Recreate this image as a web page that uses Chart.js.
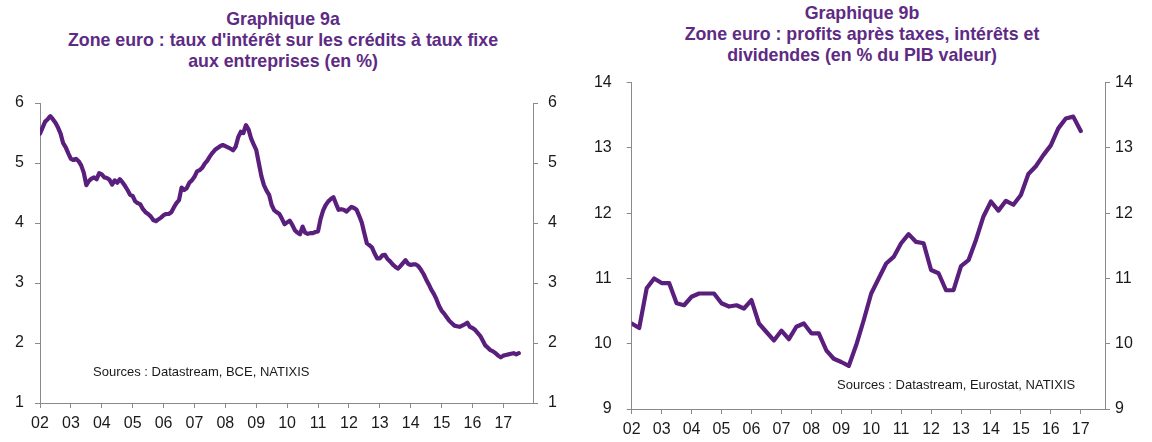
<!DOCTYPE html>
<html>
<head>
<meta charset="utf-8">
<script src="https://cdn.jsdelivr.net/npm/chart.js@4/dist/chart.umd.min.js"></script>
<style>
  html, body { margin:0; padding:0; background:#fff; }
  body { width:1152px; height:442px; position:relative; overflow:hidden; font-family:"Liberation Sans", Arial, sans-serif; }
  canvas { position:absolute; top:0; }
  .title { position:absolute; width:560px; text-align:center; font-weight:bold; font-size:17.8px; line-height:21px; color:#5e2a84; }
  .src { position:absolute; font-size:13px; line-height:15px; color:#1a1a1a; white-space:nowrap; }
</style>
</head>
<body>
<div class="title" style="left:3px; top:9px;">Graphique 9a<br>Zone euro : taux d'intérêt sur les crédits à taux fixe<br>aux entreprises (en %)</div>
<div class="title" style="left:582px; top:3px;">Graphique 9b<br>Zone euro : profits après taxes, intérêts et<br>dividendes (en % du PIB valeur)</div>
<canvas id="c1" width="576" height="442" style="left:0;"></canvas>
<canvas id="c2" width="576" height="442" style="left:576px;"></canvas>
<div class="src" style="left:93px; top:364px;">Sources : Datastream, BCE, NATIXIS</div>
<div class="src" style="left:837px; top:377px;">Sources : Datastream, Eurostat, NATIXIS</div>
<script>
// Chart 9a: monthly, starting January 2002
const creditStartYear = 2002;
const creditRates = [
  5.49,5.59,5.69,5.73,5.78,5.73,5.67,5.59,5.49,5.33,5.26,5.16,
  5.07,5.05,5.07,5.03,4.96,4.84,4.63,4.70,4.74,4.76,4.73,4.83,
  4.81,4.76,4.75,4.72,4.64,4.71,4.67,4.73,4.68,4.62,4.55,4.47,
  4.45,4.36,4.33,4.31,4.23,4.18,4.15,4.11,4.05,4.03,4.06,4.09,
  4.13,4.15,4.15,4.18,4.26,4.33,4.38,4.59,4.55,4.58,4.67,4.71,
  4.77,4.86,4.88,4.92,4.99,5.04,5.11,5.17,5.22,5.25,5.28,5.30,
  5.28,5.26,5.24,5.21,5.27,5.43,5.52,5.50,5.63,5.56,5.41,5.31,
  5.22,5.00,4.78,4.63,4.54,4.47,4.30,4.21,4.18,4.15,4.07,3.98,
  4.01,4.04,3.97,3.88,3.84,3.81,3.94,3.84,3.82,3.83,3.83,3.85,
  3.86,4.07,4.21,4.30,4.36,4.40,4.43,4.32,4.22,4.23,4.22,4.19,
  4.23,4.27,4.25,4.22,4.12,4.01,3.83,3.66,3.63,3.59,3.49,3.41,
  3.41,3.46,3.47,3.40,3.36,3.31,3.27,3.24,3.28,3.33,3.38,3.32,
  3.30,3.31,3.31,3.28,3.22,3.15,3.06,2.98,2.89,2.82,2.73,2.62,
  2.54,2.49,2.43,2.37,2.33,2.29,2.28,2.27,2.29,2.31,2.34,2.27,
  2.25,2.22,2.17,2.12,2.04,1.96,1.92,1.88,1.86,1.83,1.79,1.76,
  1.79,1.80,1.81,1.82,1.83,1.81,1.83
];
// Chart 9b: quarterly, starting Q1 2002
const profitStartYear = 2002;
const profitShares = [
  10.31,10.24,10.85,11.00, 10.93,10.93,10.62,10.59, 10.72,10.77,10.77,10.77,
  10.62,10.57,10.59,10.54, 10.67,10.31,10.18,10.05, 10.20,10.07,10.26,10.31,
  10.16,10.16,9.90,9.77, 9.72,9.66,9.98,10.36, 10.77,11.00,11.23,11.33,
  11.54,11.68,11.56,11.54, 11.13,11.08,10.82,10.82, 11.19,11.28,11.59,11.95,
  12.18,12.04,12.19,12.13, 12.28,12.60,12.72,12.89, 13.04,13.30,13.45,13.48,
  13.26
];
const yearLabels = ['02','03','04','05','06','07','08','09','10','11','12','13','14','15','16','17'];
const creditTicks = [1,2,3,4,5,6];
const profitTicks = [9,10,11,12,13,14];

const LINE = '#5a1f7d';
const AXIS = '#8a8a8a';
const TXT = '#1a1a1a';
const FONT = "'Liberation Sans', Arial, sans-serif";

function makeChart(id, points, cfg) {
  const yAxis = (pos, width, pad) => ({
    type: 'linear', position: pos, min: cfg.ymin, max: cfg.ymax,
    afterFit: s => { s.width = width; },
    ticks: { stepSize: 1, padding: pad, color: TXT, font: { family: FONT, size: 16 },
             callback: v => cfg.yticks.includes(v) ? String(v) : '' },
    grid: { drawOnChartArea: false, drawTicks: true, tickLength: 5, tickColor: AXIS },
    border: { color: AXIS, width: 1 }
  });
  return new Chart(document.getElementById(id), {
    type: 'line',
    data: { datasets: [{ data: points, borderColor: LINE, borderWidth: 4.2, pointRadius: 0,
                         borderJoinStyle: 'round', borderCapStyle: 'round', tension: 0, yAxisID: 'y' }] },
    options: {
      responsive: false, animation: false, devicePixelRatio: 1,
      layout: { padding: { top: cfg.top, left: 0, right: 0, bottom: 0 } },
      plugins: { legend: { display: false }, tooltip: { enabled: false }, title: { display: false } },
      scales: {
        x: {
          type: 'linear', min: 2002, max: cfg.xmax,
          afterFit: s => { s.height = cfg.xh; },
          ticks: { stepSize: 1, includeBounds: false, autoSkip: false, maxRotation: 0, padding: 6,
                   color: TXT, font: { family: FONT, size: 16 },
                   callback: v => { const i = Math.round(v) - 2002; return (Math.abs(v - Math.round(v)) < 1e-6 && yearLabels[i]) ? yearLabels[i] : ''; } },
          grid: { drawOnChartArea: false, drawTicks: true, tickLength: 5, tickColor: AXIS },
          border: { color: AXIS, width: 1 }
        },
        y: yAxis('left', cfg.lw, cfg.lpad),
        y2: yAxis('right', cfg.rw, cfg.rpad)
      }
    }
  });
}

makeChart('c1', creditRates.map((v, i) => ({ x: creditStartYear + i / 12, y: v })),
  { ymin: 1, ymax: 6, yticks: creditTicks, xmax: 2017.96, top: 103, xh: 39, lw: 40, rw: 43, lpad: 11, rpad: 10 });
makeChart('c2', profitShares.map((v, i) => ({ x: profitStartYear + i / 4, y: v })),
  { ymin: 9, ymax: 14, yticks: profitTicks, xmax: 2017.81, top: 82.7, xh: 33, lw: 55.7, rw: 47, lpad: 15, rpad: 5 });
</script>
</body>
</html>
